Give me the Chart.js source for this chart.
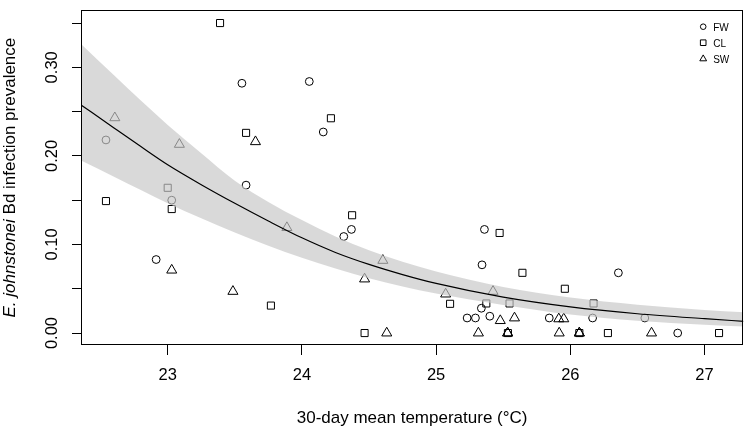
<!DOCTYPE html>
<html>
<head>
<meta charset="utf-8">
<script src="https://cdn.jsdelivr.net/npm/chart.js"></script>
<style>
  html, body { margin: 0; padding: 0; background: #fff; }
  #contenedor { width: 750px; height: 427px; position: relative; }
</style>
</head>
<body>
<div id="contenedor"><canvas id="grafico"></canvas></div>
<script>
// Puntos observados por tipo de sitio (temperatura, prevalencia)
const fwTemp = [22.54, 23.03, 22.914, 23.553, 23.584, 24.055, 24.159, 24.369, 24.312, 25.231, 25.293, 25.36, 25.342, 26.358, 25.337, 25.4, 25.843, 26.166, 26.555, 26.80];
const fwPrev = [0.218, 0.150, 0.083, 0.282, 0.167, 0.284, 0.227, 0.117, 0.109, 0.017, 0.017, 0.117, 0.077, 0.068, 0.028, 0.019, 0.017, 0.017, 0.017, 0.0];

const clTemp = [23.39, 23.584, 24.216, 23.0, 22.54, 23.03, 24.374, 23.769, 25.104, 24.467, 25.473, 25.643, 25.959, 25.374, 25.547, 26.173, 25.535, 26.067, 26.28, 27.108];
const clPrev = [0.350, 0.226, 0.2425, 0.164, 0.149, 0.140, 0.133, 0.031, 0.033, 0.0, 0.113, 0.068, 0.050, 0.0334, 0.0334, 0.0334, 0.0, 0.0, 0.0, 0.0];

const swTemp = [22.606, 23.087, 23.654, 23.03, 23.486, 23.888, 24.603, 24.467, 24.632, 25.071, 25.424, 25.478, 25.584, 25.914, 25.951, 25.315, 25.533, 25.533, 25.917, 26.067, 26.067, 26.605];
const swPrev = [0.243, 0.213, 0.216, 0.071, 0.047, 0.119, 0.082, 0.061, 0.0, 0.044, 0.047, 0.014, 0.017, 0.016, 0.016, 0.0, 0.0, 0.0, 0.0, 0.0, 0.0, 0.0];

// Curva ajustada y banda de confianza
const curvaTemp  = [22.35, 22.6, 22.8, 23.0, 23.25, 23.5, 23.75, 24.0, 24.25, 24.5, 24.75, 25.0, 25.5, 26.0, 26.5, 27.0, 27.3];
const curvaPrev  = [0.258, 0.2315, 0.2105, 0.190, 0.1675, 0.1465, 0.1265, 0.1075, 0.091, 0.0775, 0.066, 0.056, 0.0405, 0.0295, 0.0218, 0.0162, 0.0132];
const bandaSup   = [0.327, 0.291, 0.2625, 0.235, 0.203, 0.172, 0.148, 0.1275, 0.109, 0.0935, 0.0805, 0.0695, 0.052, 0.040, 0.032, 0.026, 0.0233];
const bandaInf   = [0.195, 0.1765, 0.1615, 0.1465, 0.1295, 0.1135, 0.0985, 0.085, 0.0728, 0.062, 0.0526, 0.0446, 0.0318, 0.021, 0.014, 0.0095, 0.0073];

// Ejes
const xTicks = [23, 24, 25, 26, 27];
const xTickLabels = ["23", "24", "25", "26", "27"];
const yTicks = [0, 0.05, 0.10, 0.15, 0.20, 0.25, 0.30, 0.35];
const yTickLabels = ["0.00", "0.10", "0.20", "0.30"];

const leyenda = ["FW", "CL", "SW"];
const fuente = '"Liberation Sans", Arial, sans-serif';

const pares = (xs, ys) => xs.map((x, i) => ({ x: x, y: ys[i] }));

const extras = {
    id: "extras",
    afterDraw(chart) {
        const ctx = chart.ctx;
        const a = chart.chartArea;
        const ys = chart.scales.y;
        ctx.save();
        // caja del grafico
        ctx.strokeStyle = "#000";
        ctx.lineWidth = 1;
        ctx.strokeRect(Math.round(a.left) + 0.5, Math.round(a.top) + 0.5, Math.round(a.right - a.left) - 1, Math.round(a.bottom - a.top) - 1);

        // etiquetas del eje y, giradas
        ctx.fillStyle = "#000";
        ctx.font = "16.5px " + fuente;
        ctx.textAlign = "center";
        ctx.textBaseline = "alphabetic";
        yTickLabels.forEach(lbl => {
            const py = ys.getPixelForValue(parseFloat(lbl));
            ctx.save();
            ctx.translate(57, py);
            ctx.rotate(-Math.PI / 2);
            ctx.fillText(lbl, 0, 0);
            ctx.restore();
        });

        // titulo del eje y (parte en cursiva)
        const cursiva = "E. johnstonei";
        const normal = " Bd infection prevalence";
        ctx.save();
        ctx.translate(15, (a.top + a.bottom) / 2);
        ctx.rotate(-Math.PI / 2);
        ctx.textAlign = "left";
        ctx.font = "italic 17px " + fuente;
        const w1 = ctx.measureText(cursiva).width;
        ctx.font = "17px " + fuente;
        const w2 = ctx.measureText(normal).width;
        let inicio = -(w1 + w2) / 2;
        ctx.font = "italic 17px " + fuente;
        ctx.fillText(cursiva, inicio, 0);
        ctx.font = "17px " + fuente;
        ctx.fillText(normal, inicio + w1, 0);
        ctx.restore();

        // leyenda
        const sx = a.right - 40;
        const tx = a.right - 30;
        ctx.font = "10px " + fuente;
        ctx.textAlign = "left";
        ctx.lineWidth = 1;
        leyenda.forEach((nombre, i) => {
            const cy = a.top + 16.5 + i * 16;
            ctx.beginPath();
            if (i === 0) {
                ctx.arc(sx, cy, 2.8, 0, Math.PI * 2);
            } else if (i === 1) {
                ctx.rect(sx - 2.8, cy - 2.8, 5.6, 5.6);
            } else {
                ctx.moveTo(sx, cy - 3.8);
                ctx.lineTo(sx + 3.4, cy + 2.1);
                ctx.lineTo(sx - 3.4, cy + 2.1);
                ctx.closePath();
            }
            ctx.stroke();
            ctx.fillText(nombre, tx, cy + 3.8);
        });
        ctx.restore();
    }
};

const puntos = (etiqueta, xs, ys, estilo, radio) => ({
    label: etiqueta,
    data: pares(xs, ys),
    pointStyle: estilo,
    pointRadius: radio,
    pointBorderColor: "#000",
    pointBackgroundColor: "rgba(0,0,0,0)",
    pointBorderWidth: 1,
    showLine: false,
    order: 3
});

new Chart(document.getElementById("grafico"), {
    type: "scatter",
    data: {
        datasets: [
            {
                label: "ajuste",
                data: pares(curvaTemp, curvaPrev),
                showLine: true,
                borderColor: "#000",
                borderWidth: 1.2,
                pointRadius: 0,
                cubicInterpolationMode: "monotone",
                fill: false,
                order: 0
            },
            {
                label: "superior",
                data: pares(curvaTemp, bandaSup),
                showLine: true,
                borderWidth: 0,
                borderColor: "rgba(0,0,0,0)",
                pointRadius: 0,
                cubicInterpolationMode: "monotone",
                backgroundColor: "rgba(199,199,199,0.68)",
                fill: "+1",
                order: 1
            },
            {
                label: "inferior",
                data: pares(curvaTemp, bandaInf),
                showLine: true,
                borderWidth: 0,
                borderColor: "rgba(0,0,0,0)",
                pointRadius: 0,
                cubicInterpolationMode: "monotone",
                fill: false,
                order: 2
            },
            puntos("FW", fwTemp, fwPrev, "circle", 3.9),
            puntos("CL", clTemp, clPrev, "rect", 5),
            puntos("SW", swTemp, swPrev, "triangle", 5.8)
        ]
    },
    options: {
        responsive: true,
        maintainAspectRatio: false,
        animation: false,
        layout: { padding: { top: 1, right: 2, left: 0, bottom: 0 } },
        plugins: {
            legend: { display: false },
            tooltip: { enabled: false }
        },
        scales: {
            x: {
                type: "linear",
                min: 22.354,
                max: 27.288,
                afterFit(scale) { scale.height = 82; },
                afterBuildTicks(scale) { scale.ticks = xTicks.map(v => ({ value: v })); },
                ticks: {
                    padding: 11,
                    color: "#000",
                    font: { family: fuente, size: 16.5 },
                    autoSkip: false,
                    maxRotation: 0,
                    callback: v => xTickLabels[xTicks.indexOf(v)]
                },
                grid: { drawOnChartArea: false, drawTicks: true, tickLength: 10, color: "#000" },
                border: { display: false },
                title: {
                    display: true,
                    text: "30-day mean temperature (°C)",
                    color: "#000",
                    font: { family: fuente, size: 17, lineHeight: 1.0 },
                    padding: { top: 0, bottom: 0 }
                }
            },
            y: {
                type: "linear",
                min: -0.0135,
                max: 0.3645,
                afterFit(scale) { scale.width = 81; },
                afterBuildTicks(scale) { scale.ticks = yTicks.map(v => ({ value: v })); },
                ticks: {
                    autoSkip: false,
                    callback: () => ""
                },
                grid: { drawOnChartArea: false, drawTicks: true, tickLength: 9, color: "#000" },
                border: { display: false }
            }
        }
    },
    plugins: [extras]
});
</script>
</body>
</html>
